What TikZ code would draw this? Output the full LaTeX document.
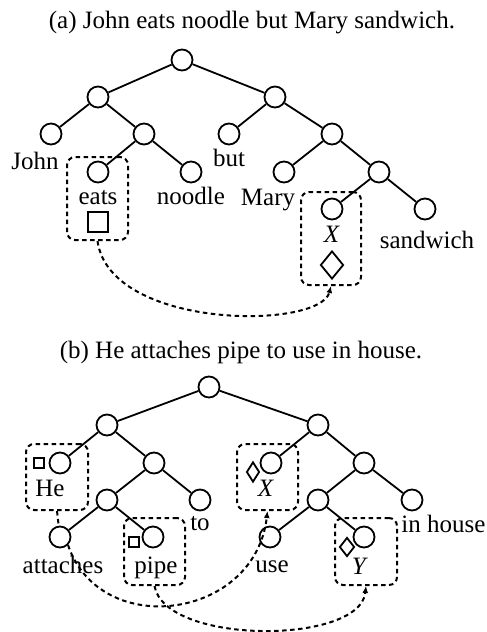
\documentclass[tikz,border=0pt]{standalone}
\usepackage{fontspec}
\setmainfont{Liberation Serif}
\usepackage{tikz}
\usetikzlibrary{positioning}
\usetikzlibrary{shapes.geometric}
\usetikzlibrary{arrows.meta}

\begin{document}
\begin{tikzpicture}[x=1pt, y=-1pt, font=\fontsize{25}{29}\selectfont,
    >={Latex[length=7pt,width=6pt]},
    nodo/.style={draw, circle, minimum size=21pt, inner sep=0pt, line width=1.8pt},
    caja/.style={draw, dash pattern=on 4.5pt off 3.5pt, line width=2pt, rounded corners=8pt, inner sep=0pt},
    cuadro/.style={draw, rectangle, inner sep=0pt, line width=1.8pt},
    rombo/.style={draw, diamond, inner sep=0pt, line width=1.8pt},
    rama/.style={line width=1.8pt},
    enlace/.style={dash pattern=on 4.5pt off 3.5pt, line width=2pt}]
            \useasboundingbox (0,0) rectangle (487,632);

            % Arbol (a)
            \node (titA) at (252,23) {(a) John eats noodle but Mary sandwich.};
            \node[nodo] (a0) at (182,60) {};
            \node[nodo] (a1) at (98,97) {};
            \node[nodo] (a2) at (275,97) {};
            \node[nodo] (a11) at (51,134) {};
            \node[nodo] (a12) at (144,134) {};
            \node[nodo] (a21) at (229,134) {};
            \node[nodo] (a22) at (332,134) {};
            \node[nodo] (a121) at (98,172) {};
            \node[nodo] (a122) at (191,172) {};
            \node[nodo] (a221) at (284,172) {};
            \node[nodo] (a222) at (379,172) {};
            \node[nodo] (a2221) at (332,209) {};
            \node[nodo] (a2222) at (425,209) {};

            % Palabras (a)
            \node[inner sep=0pt] (wJohn) at (35,161) {John};
            \node[inner sep=0pt] (wbut) at (229,158) {but};
            \node[inner sep=0pt] (weats) at (98,198) {eats};
            \node[inner sep=0pt] (wnoodle) at (191,196) {noodle};
            \node[inner sep=0pt] (wMary) at (268,200) {Mary};
            \node[inner sep=0pt] (wXa) at (332,234) {\textit{X}};
            \node[inner sep=0pt] (wsandwich) at (427,240) {sandwich};
            \node[cuadro, minimum size=20pt] (sqa) at (98,222) {};
            \node[rombo, minimum width=23pt, minimum height=28pt] (rba) at (332,265) {};
            \node[caja, minimum width=61pt, minimum height=83pt] (beats) at (97.5,198.5) {};
            \node[caja, minimum width=60pt, minimum height=93pt] (bxa) at (331,238.5) {};

            % Aristas (a)
            \draw[rama] (a0) -- (a1);
            \draw[rama] (a0) -- (a2);
            \draw[rama] (a1) -- (a11);
            \draw[rama] (a1) -- (a12);
            \draw[rama] (a12) -- (a121);
            \draw[rama] (a12) -- (a122);
            \draw[rama] (a2) -- (a21);
            \draw[rama] (a2) -- (a22);
            \draw[rama] (a22) -- (a221);
            \draw[rama] (a22) -- (a222);
            \draw[rama] (a222) -- (a2221);
            \draw[rama] (a222) -- (a2222);
            \draw[enlace, ->] (beats.south) .. controls (110,330) and (320,330) .. (bxa.south);

            % Arbol (b)
            \node (titB) at (241,352) {(b) He attaches pipe to use in house.};
            \node[nodo] (b0) at (209,387) {};
            \node[nodo] (b1) at (107,425) {};
            \node[nodo] (b2) at (318,425) {};
            \node[nodo] (b11) at (60,463) {};
            \node[nodo] (b12) at (154,463) {};
            \node[nodo] (b21) at (271,463) {};
            \node[nodo] (b22) at (364,463) {};
            \node[nodo] (b121) at (107,500) {};
            \node[nodo] (b122) at (200,500) {};
            \node[nodo] (b221) at (318,500) {};
            \node[nodo] (b222) at (412,500) {};
            \node[nodo] (b1211) at (60,537) {};
            \node[nodo] (b1212) at (153,537) {};
            \node[nodo] (b2211) at (270,537) {};
            \node[nodo] (b2212) at (364,537) {};

            % Palabras (b)
            \node[inner sep=0pt] (wHe) at (50,488.5) {He};
            \node[inner sep=0pt] (wattaches) at (63,565) {attaches};
            \node[inner sep=0pt] (wpipe) at (156,568) {pipe};
            \node[inner sep=0pt] (wto) at (200,524) {to};
            \node[inner sep=0pt] (wXb) at (266,488) {\textit{X}};
            \node[inner sep=0pt] (wuse) at (272,567) {use};
            \node[inner sep=0pt] (wYb) at (360,566) {\textit{Y}};
            \node[inner sep=0pt] (winhouse) at (443.5,524) {in house};
            \node[cuadro, minimum size=10pt] (sqhe) at (39,463) {};
            \node[cuadro, minimum size=10pt] (sqpipe) at (134,542) {};
            \node[rombo, minimum width=13pt, minimum height=20pt] (rbx) at (253,472) {};
            \node[rombo, minimum width=15pt, minimum height=19pt] (rby) at (347,547) {};
            \node[caja, minimum width=62pt, minimum height=66pt] (bhe) at (57,477) {};
            \node[caja, minimum width=61pt, minimum height=67pt] (bpipe) at (154.5,551.5) {};
            \node[caja, minimum width=61pt, minimum height=66pt] (bxb) at (267.5,477) {};
            \node[caja, minimum width=62pt, minimum height=67pt] (byb) at (366,551.5) {};

            % Aristas (b)
            \draw[rama] (b0) -- (b1);
            \draw[rama] (b0) -- (b2);
            \draw[rama] (b1) -- (b11);
            \draw[rama] (b1) -- (b12);
            \draw[rama] (b12) -- (b121);
            \draw[rama] (b12) -- (b122);
            \draw[rama] (b121) -- (b1211);
            \draw[rama] (b121) -- (b1212);
            \draw[rama] (b2) -- (b21);
            \draw[rama] (b2) -- (b22);
            \draw[rama] (b22) -- (b221);
            \draw[rama] (b22) -- (b222);
            \draw[rama] (b221) -- (b2211);
            \draw[rama] (b221) -- (b2212);
            \draw[enlace] (bhe.south) -- (b1211);
            \draw[enlace, ->] (b1211.south east) .. controls (100,640) and (255,620) .. (bxb.south);
            \draw[enlace, ->] (bpipe.south) .. controls (165,645) and (360,645) .. (byb.south);
          \end{tikzpicture}
\end{document}
